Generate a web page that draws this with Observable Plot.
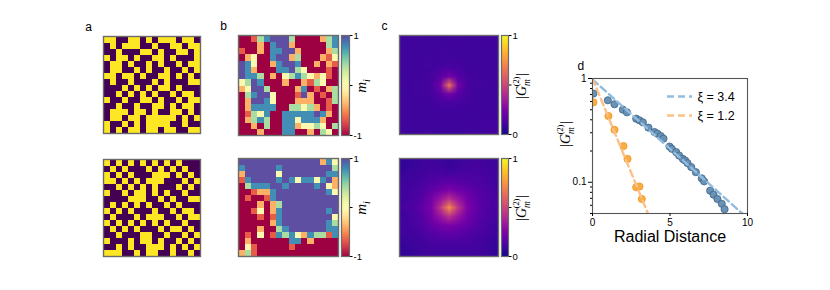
<!DOCTYPE html>
<html><head><meta charset="utf-8">
<script src="https://cdn.jsdelivr.net/npm/d3@7"></script>
<script src="https://cdn.jsdelivr.net/npm/@observablehq/plot@0.6"></script>
<style>
html,body{margin:0;padding:0;background:#fff;}
#wrap{position:relative;width:830px;height:290px;overflow:hidden;font-family:"Liberation Sans",Arial,sans-serif;}
#wrap svg{position:absolute;left:0;top:0;background:transparent !important;max-width:none;overflow:visible;}
</style></head><body><div id="wrap"></div>
<script>
// ---------- DATA ----------
// panel a: spin configurations (0 = down, 1 = up), 16x16
const aTop = [
 [1,1,0,0,1,1,0,1,0,1,1,1,0,1,1,0],
 [0,1,0,1,1,1,0,0,1,0,0,1,1,0,1,1],
 [0,0,1,0,0,0,1,1,0,1,0,0,1,1,0,1],
 [1,0,1,1,0,1,0,0,1,1,0,1,0,0,0,1],
 [0,1,1,0,1,0,0,1,0,1,0,0,1,0,1,1],
 [0,1,1,0,0,1,0,1,0,0,1,0,0,1,0,1],
 [1,1,0,1,1,0,1,0,0,1,1,0,1,0,1,0],
 [0,1,0,0,1,0,0,0,1,0,1,0,0,0,1,1],
 [0,0,0,1,0,1,0,1,0,1,1,0,1,0,0,0],
 [0,0,1,0,1,0,1,0,1,0,0,1,0,1,1,0],
 [1,0,0,1,0,0,1,1,0,1,0,0,1,0,1,1],
 [0,0,1,0,0,1,0,0,1,1,0,1,0,1,1,0],
 [0,1,1,1,0,1,1,0,1,0,0,1,1,0,1,0],
 [0,1,1,0,1,1,0,1,1,1,1,1,0,1,0,1],
 [1,0,0,1,0,1,0,1,1,1,1,0,0,1,0,0],
 [1,0,1,0,1,1,0,1,1,0,1,1,0,0,1,1]
];
const aBot = [
 [1,0,1,0,1,0,1,0,1,0,1,0,1,0,0,0],
 [0,1,0,1,0,0,0,1,0,1,0,1,0,1,0,0],
 [1,0,1,0,1,0,0,0,1,1,1,0,1,0,1,0],
 [1,1,0,1,0,1,0,1,1,1,0,0,0,1,0,1],
 [0,0,1,0,1,0,1,0,1,0,0,0,1,0,1,0],
 [1,0,0,1,0,1,1,0,1,0,1,0,0,1,0,0],
 [0,0,0,0,1,1,1,0,0,1,0,1,0,0,1,1],
 [0,1,0,1,0,1,0,1,0,0,1,0,1,0,0,0],
 [1,0,1,0,1,0,0,0,1,0,0,1,0,1,1,0],
 [0,1,0,0,0,1,0,1,1,1,0,0,1,0,1,1],
 [1,0,1,0,1,0,1,0,1,0,1,0,0,1,0,0],
 [0,1,0,1,0,1,0,0,0,1,0,1,1,0,1,0],
 [0,0,1,0,0,0,1,1,0,0,1,0,0,1,0,1],
 [1,0,0,0,1,0,1,1,0,1,0,0,1,0,1,0],
 [0,0,1,0,1,0,0,1,1,1,0,1,0,1,0,1],
 [1,1,1,0,0,1,0,1,1,0,0,1,0,0,1,0]
];
// panel b: local magnetisation m_i, coded levels
const bLevels = {R:-1, r:-0.68, o:-0.38, y:0.0, g:0.4, t:0.78, p:1};
const bTopRows = [
 "RRrgtpppgRRRRogt","RRRoRtppoRRRRRgt","rRRoRttppoRRRRog","RoyRRtppogRRRory",
 "ptyRRotpptRRoRor","ptoRRRttpgyRRRrR","pttgRoRygtgyoyrR","ygptRRRoRRorgyRR",
 "oyppgRRRRotRrRog","RgtppyRRRrpoRrRg","RopptyRRRoooRRrg","RottttRRggygoRrR",
 "RrgytRRtttttptoR","RogtgRRttytttoRR","RRoRgRRttoyygyRg","RRRoRRRttRRoRgyR"
];
const bBotRows = [
 "pppppppppppppoty","tppppptppppppppg","opppppyppppppptt","rtpppptptyttytpo",
 "Rgtttpptpppptpyo","RRrootppppppppty","RrRRrtpppppppppp","RRRoRogppppppppp",
 "RRryRotppppppptp","RRRrRrtppppppppy","RRRRRotppppppptg","RRRoRRgtpppppptt",
 "RrRyRrtgtyotggrt","RoRRRRRRttRoRRRR","RyrRRRRRrRRRRRRR","ogrRRRRRRRRRRRRR"
];
// panel c: |G_m^(2)| maps (11x11, displacement grid)
const cTop = [
 [.09,.10,.10,.09,.09,.10,.10,.09,.09,.10,.10],
 [.10,.10,.09,.09,.10,.10,.09,.09,.10,.10,.09],
 [.09,.09,.10,.10,.10,.10,.10,.10,.09,.09,.09],
 [.10,.09,.10,.10,.11,.12,.11,.10,.10,.09,.10],
 [.09,.10,.10,.11,.15,.22,.15,.11,.10,.10,.09],
 [.10,.10,.10,.12,.22,.64,.22,.12,.10,.10,.10],
 [.09,.10,.10,.11,.15,.22,.15,.11,.10,.09,.09],
 [.09,.09,.10,.10,.11,.12,.11,.10,.10,.09,.10],
 [.10,.09,.09,.10,.10,.10,.10,.10,.09,.10,.09],
 [.09,.10,.09,.09,.10,.09,.10,.09,.10,.11,.10],
 [.10,.09,.10,.10,.09,.10,.09,.10,.10,.10,.11]
];
const cBot = [
 [.07,.08,.09,.10,.09,.08,.09,.10,.11,.10,.09],
 [.08,.09,.10,.11,.11,.10,.11,.12,.12,.11,.10],
 [.09,.10,.11,.13,.15,.16,.15,.14,.13,.12,.10],
 [.10,.11,.13,.17,.21,.24,.21,.18,.15,.13,.11],
 [.10,.12,.15,.22,.32,.42,.32,.23,.17,.14,.12],
 [.11,.13,.17,.24,.43,.72,.43,.25,.18,.14,.12],
 [.10,.12,.15,.22,.32,.42,.32,.22,.17,.13,.11],
 [.10,.11,.14,.18,.22,.24,.22,.18,.15,.12,.10],
 [.09,.10,.12,.14,.16,.17,.16,.14,.12,.11,.09],
 [.08,.09,.10,.12,.12,.12,.12,.12,.11,.10,.08],
 [.07,.08,.09,.10,.10,.10,.10,.10,.10,.09,.07]
];
// panel d: radial correlation
const blueR = [0.06,0.99,1.42,1.96,2.22,2.82,3.03,3.25,3.61,4.00,4.19,4.41,4.58,4.97,5.12,5.40,5.59,5.83,5.98,6.13,6.37,6.67,7.05,7.20,7.59,7.81,8.06,8.34,8.52];
const blueG = [0.716,0.617,0.565,0.501,0.472,0.410,0.395,0.378,0.336,0.305,0.294,0.279,0.263,0.221,0.210,0.195,0.181,0.168,0.162,0.153,0.140,0.125,0.109,0.102,0.083,0.076,0.069,0.062,0.055];
const orangeR = [0.06,1.03,1.42,2.00,2.26,2.82,3.03,3.18];
const orangeG = [0.59,0.435,0.32,0.223,0.168,0.0895,0.091,0.069];
const blueFitR = [0, 10], blueFitG = [0.98, 0.045];
const orangeFitR = [0, 3.7], orangeFitG = [1.0, 0.045];
const legendLabels = ["ξ = 3.4", "ξ = 1.2"];
const dXTicks = [0, 5, 10];
const dYMajor = [1, 0.1], dYMajorLabels = ["1", "0.1"];
const dYMinor = [0.05,0.06,0.07,0.08,0.09,0.2,0.3,0.4,0.5,0.6,0.7,0.8,0.9];
const bBarTicks = [-1, 0, 1], bBarLabels = ["-1", "", "1"];
const cBarTicks = [0, 0.5, 1], cBarLabels = ["0", "", "1"];
const letters = ["a", "b", "c", "d"];

// ---------- DRAWING ----------
const W = 830, H = 290;
const wrap = document.getElementById("wrap");
const FONT = "Liberation Sans, Arial, sans-serif";
function place(box, opts) {
  const svg = Plot.plot({
    width: W, height: H,
    marginLeft: box[0], marginRight: W - box[1], marginTop: box[2], marginBottom: H - box[3],
    style: {background: "transparent", fontFamily: FONT, overflow: "visible", color: "#000"},
    ...opts
  });
  wrap.appendChild(svg);
  return svg;
}
const viridisEnds = {type: "linear", domain: [0, 1], range: ["#440154", "#fde725"]};
const spectral = {type: "linear", scheme: "spectral", domain: [-1, 1]};
const plasma = {type: "linear", scheme: "plasma", domain: [0, 1]};

function grid(values, n, box, color, letter, smooth) {
  return place(box, {
    x: {domain: [0, n], axis: null},
    y: {domain: [0, n], axis: null, reverse: true},
    color,
    marks: [
      Plot.raster(values, {width: n, height: n, x1: 0, x2: n, y1: 0, y2: n, fill: d => d,
        imageRendering: smooth ? undefined : "pixelated"}),
      Plot.frame({stroke: "#6b6b6b", strokeWidth: 1.4}),
      letter ? Plot.text([letter], {frameAnchor: "top-left", dx: -15, dy: -14, fontSize: 12, textAnchor: "middle"}) : null
    ]
  });
}
function cbar(box, color, ticks, labels) {
  const dom = color.domain;
  return place(box, {
    x: {domain: [0, 1], axis: null},
    y: {domain: dom, axis: null},
    color,
    marks: [
      Plot.raster({x1: 0, x2: 1, y1: dom[0], y2: dom[1], fill: (x, y) => y, pixelSize: 1}),
      Plot.frame({stroke: "#6b6b6b", strokeWidth: 1.2}),
      Plot.axisY(ticks, {anchor: "right", tickSize: 2.5, tickPadding: 1.5, fontSize: 9.5,
        tickFormat: d => labels[ticks.indexOf(d)], label: null})
    ]
  });
}
function mathLabel(svg, cx, cy, size, parts) {
  const t = d3.select(svg).append("text")
    .attr("transform", `translate(${cx + size * 0.33},${cy}) rotate(-90)`)
    .attr("text-anchor", "middle")
    .attr("font-family", "Liberation Serif, DejaVu Serif, serif")
    .attr("font-size", size).attr("fill", "#000");
  for (const p of parts) {
    const s = t.append("tspan").text(p.t);
    if (p.i) s.attr("font-style", "italic");
    if (p.s) s.attr("font-size", p.s);
    if (p.dx) s.attr("dx", p.dx);
    if (p.dy) s.attr("dy", p.dy);
  }
}
const gParts = s => [
  {t: "|"}, {t: "G", i: true}, {t: "m", i: true, s: s * 0.68, dy: s * 0.28},
  {t: "(2)", s: s * 0.6, dx: -s * 0.52, dy: -s * 0.72}, {t: "|", dy: s * 0.44, dx: s * 0.05}
];
const mParts = s => [{t: "m", i: true}, {t: "i", i: true, s: s * 0.68, dy: s * 0.25}];

const toVals = rows => rows.map(r => [...r].map(c => bLevels[c])).flat();

// panel a
grid(aTop.flat(), 16, [103, 200, 36, 133], viridisEnds, letters[0]);
grid(aBot.flat(), 16, [103, 200, 159, 256], viridisEnds, null);
// panel b
grid(toVals(bTopRows), 16, [238, 338, 35, 135], spectral, letters[1]);
grid(toVals(bBotRows), 16, [238, 338, 158, 256], spectral, null);
const sb1 = cbar([341, 349, 35, 135], spectral, bBarTicks, bBarLabels);
const sb2 = cbar([341, 349, 158, 256], spectral, bBarTicks, bBarLabels);
mathLabel(sb1, 361, 86, 15, mParts(15));
mathLabel(sb2, 361, 208, 15, mParts(15));
// panel c
grid(cTop.flat(), 11, [399, 498, 35, 134], plasma, letters[2], true);
grid(cBot.flat(), 11, [399, 498, 158, 256], plasma, null, true);
const sc1 = cbar([501, 508, 35, 134], plasma, cBarTicks, cBarLabels);
const sc2 = cbar([501, 508, 158, 256], plasma, cBarTicks, cBarLabels);
mathLabel(sc1, 521, 86, 14, gParts(14));
mathLabel(sc2, 521, 208, 14, gParts(14));
// panel d
const blue = blueR.map((r, i) => ({r, g: blueG[i]}));
const orange = orangeR.map((r, i) => ({r, g: orangeG[i]}));
const blueFit = blueFitR.map((r, i) => ({r, g: blueFitG[i]}));
const orangeFit = orangeFitR.map((r, i) => ({r, g: orangeFitG[i]}));
const blueLine = "#93bde0", orangeLine = "#fcc08a";
const sd = place([592, 747, 78, 213], {
  x: {domain: [0, 10]},
  y: {type: "log", domain: [0.05, 1]},
  marks: [
    Plot.dot(blue, {x: "r", y: "g", r: 3.6, fill: "#6b91b4", stroke: "#3a6489", strokeWidth: 0.8, clip: true}),
    Plot.dot(orange, {x: "r", y: "g", r: 3.6, fill: "#f8ae45", stroke: "#f0961c", strokeWidth: 0.8, clip: true}),
    Plot.line(blueFit, {x: "r", y: "g", stroke: blueLine, strokeWidth: 2.4, strokeDasharray: "7,4", clip: true}),
    Plot.line(orangeFit, {x: "r", y: "g", stroke: orangeLine, strokeWidth: 2.4, strokeDasharray: "7,4", clip: true}),
    Plot.frame({stroke: "#555", strokeWidth: 1.1}),
    Plot.axisX(dXTicks, {tickSize: 3, tickPadding: 2, fontSize: 10, label: null}),
    Plot.axisY(dYMajor, {tickSize: 4, tickPadding: 2, fontSize: 10, label: null,
      tickFormat: d => dYMajorLabels[dYMajor.indexOf(d)]}),
    Plot.axisY(dYMinor, {tickSize: 2, tickFormat: () => "", label: null}),
    Plot.text(["Radial Distance"], {frameAnchor: "bottom", dy: 28, fontSize: 16}),
    Plot.text([letters[3]], {frameAnchor: "top-left", dx: -15, dy: -17, fontSize: 12})
  ]
});
mathLabel(sd, 565, 134, 14, gParts(14));
// legend for panel d
place([667, 692, 96, 115], {
  x: {domain: [0, 1], axis: null},
  y: {type: "point", domain: legendLabels, padding: 0},
  marks: [
    Plot.ruleY([legendLabels[0]], {stroke: blueLine, strokeWidth: 2.4, strokeDasharray: "7,4"}),
    Plot.ruleY([legendLabels[1]], {stroke: orangeLine, strokeWidth: 2.4, strokeDasharray: "7,4"}),
    Plot.axisY({anchor: "right", tickSize: 0, tickPadding: 5, fontSize: 12.5, label: null})
  ]
});
</script></body></html>
